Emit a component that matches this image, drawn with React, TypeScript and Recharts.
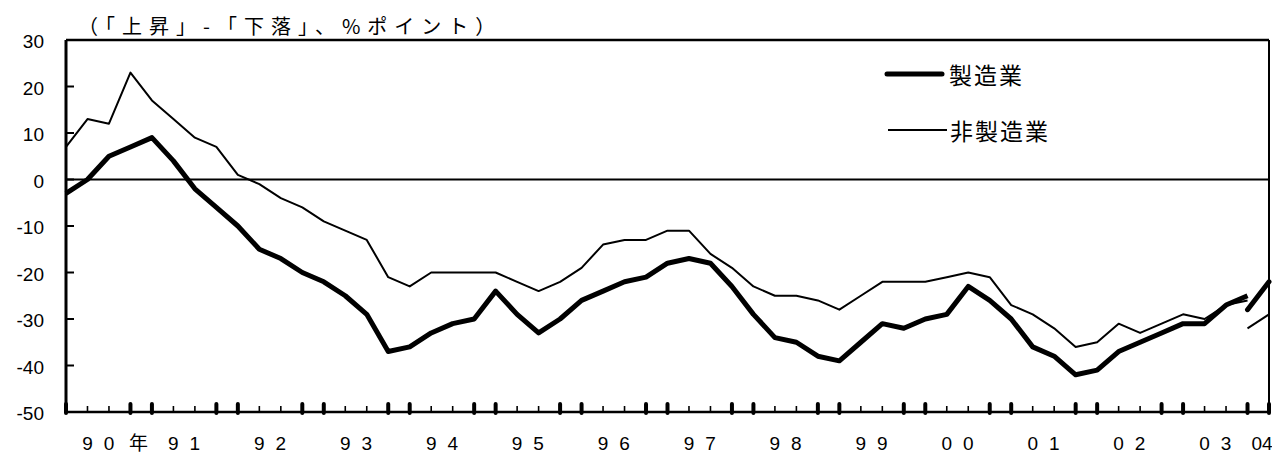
import React from 'react';
import { LineChart, Line, XAxis, YAxis, ReferenceLine } from 'recharts';

// year labels, one per year (04 has only its first quarter)
const yearLabels = ['90', '91', '92', '93', '94', '95', '96', '97', '98', '99', '00', '01', '02', '03', '04'];
const quarterMonths = ['3', '6', '9', '12'];

// old basis, 90/3 .. 03/12
const manufacturing = [
  -3, 0, 5, 7, 9, 4, -2, -6, -10, -15, -17, -20, -22, -25, -29, -37,
  -36, -33, -31, -30, -24, -29, -33, -30, -26, -24, -22, -21, -18, -17, -18, -23,
  -29, -34, -35, -38, -39, -35, -31, -32, -30, -29, -23, -26, -30, -36, -38, -42,
  -41, -37, -35, -33, -31, -31, -27, -25,
];
const nonManufacturing = [
  7, 13, 12, 23, 17, 13, 9, 7, 1, -1, -4, -6, -9, -11, -13, -21,
  -23, -20, -20, -20, -20, -22, -24, -22, -19, -14, -13, -13, -11, -11, -16, -19,
  -23, -25, -25, -26, -28, -25, -22, -22, -22, -21, -20, -21, -27, -29, -32, -36,
  -35, -31, -33, -31, -29, -30, -27, -26,
];
// new basis, 03/12 and 04/3
const manufacturingNew = [-28, -22];
const nonManufacturingNew = [-32, -29];

const yTicks = [-50, -40, -30, -20, -10, 0, 10, 20, 30];
const seriesNames = ['製造業', '非製造業'];
const unitTitle = '（「上昇」-「下落」、%ポイント）';

const newStart = manufacturing.length - 1;

const data = yearLabels.flatMap((yr, y) =>
  quarterMonths.map((m, q) => {
    const i = y * 4 + q;
    return {
      i,
      label: `${yr}/${m}`,
      mfg: i < manufacturing.length ? manufacturing[i] : null,
      nonMfg: i < nonManufacturing.length ? nonManufacturing[i] : null,
      mfgNew: i >= newStart ? manufacturingNew[i - newStart] ?? null : null,
      nonMfgNew: i >= newStart ? nonManufacturingNew[i - newStart] ?? null : null,
    };
  })
).filter((d) => d.i <= newStart + manufacturingNew.length - 1);

const lastIdx = data.length - 1;
const xTicks = data.map((d) => d.i);

const numFont = "'Liberation Sans', Arial, sans-serif";
const jpFont = "'Noto Sans CJK JP', sans-serif";

const YTick = (props: any) => {
  const { x, y, payload } = props;
  return (
    <g>
      <line x1={x} x2={x + 8} y1={y} y2={y} stroke="#000" strokeWidth={2} />
      <text x={x - 22} y={y} dy={8} textAnchor="end" fontSize={19} fontFamily={numFont} fill="#000">
        {payload.value}
      </text>
    </g>
  );
};

const XTick = (props: any) => {
  const { x, y, payload } = props;
  const i = payload.value as number;
  const q = i % 4;
  const year = yearLabels[Math.floor(i / 4)];
  const thick = q === 0 || q === 3;
  const base = y + 38;
  let label: React.ReactNode = null;
  if (i === lastIdx) {
    label = (
      <text x={x - 7} y={base} textAnchor="middle" fontSize={19} fontFamily={numFont} fill="#000">{year}</text>
    );
  } else if (q === 1 || q === 2) {
    label = (
      <text x={x} y={base} textAnchor="middle" fontSize={19} fontFamily={numFont} fill="#000">{year[q - 1]}</text>
    );
  } else if (i === 3) {
    label = (
      <text x={x + 8} y={base} textAnchor="middle" fontSize={19} fontFamily={jpFont} fill="#000">年</text>
    );
  }
  return (
    <g>
      {thick ? (
        <line x1={x} x2={x} y1={y - 8} y2={y + 1} stroke="#000" strokeWidth={4} strokeLinecap="round" />
      ) : (
        <line x1={x} x2={x} y1={y - 6} y2={y} stroke="#000" strokeWidth={1.6} />
      )}
      {label}
    </g>
  );
};

export default function App() {
  return (
    <div style={{ position: 'relative', width: 1272, height: 448, background: '#fff' }}>
      <LineChart width={1272} height={448} data={data} margin={{ top: 32, right: 11, bottom: 0, left: 0 }}>
        <XAxis
          dataKey="i"
          type="number"
          domain={[0, lastIdx]}
          ticks={xTicks}
          interval={0}
          height={44}
          tickLine={false}
          tickSize={0}
          tickMargin={0}
          axisLine={{ stroke: '#000', strokeWidth: 2.5 }}
          tick={<XTick />}
        />
        <YAxis
          type="number"
          domain={[-50, 30]}
          ticks={yTicks}
          interval={0}
          width={58}
          tickLine={false}
          tickSize={0}
          tickMargin={0}
          axisLine={{ stroke: '#000', strokeWidth: 3 }}
          tick={<YTick />}
        />
        <ReferenceLine y={30} stroke="#000" strokeWidth={2.5} />
        <ReferenceLine x={lastIdx} stroke="#000" strokeWidth={2} />
        <ReferenceLine y={0} stroke="#000" strokeWidth={2} />
        <Line dataKey="nonMfg" name={seriesNames[1]} stroke="#000" strokeWidth={2} dot={false} isAnimationActive={false} strokeLinejoin="round" />
        <Line dataKey="nonMfgNew" stroke="#000" strokeWidth={2} dot={false} isAnimationActive={false} />
        <Line dataKey="mfg" name={seriesNames[0]} stroke="#000" strokeWidth={5} dot={false} isAnimationActive={false} strokeLinejoin="round" />
        <Line dataKey="mfgNew" stroke="#000" strokeWidth={5} dot={false} isAnimationActive={false} strokeLinecap="round" />
      </LineChart>
      <svg width={1272} height={448} style={{ position: 'absolute', left: 0, top: 0, pointerEvents: 'none' }}>
        <text x={70} y={26} fontSize={20} letterSpacing={7} fontFamily={jpFont} fill="#000">{unitTitle}</text>
        <line x1={879} x2={934} y1={66} y2={66} stroke="#000" strokeWidth={5} strokeLinecap="round" />
        <text x={941} y={76} fontSize={23} letterSpacing={2} fontFamily={jpFont} fill="#000">{seriesNames[0]}</text>
        <line x1={880} x2={939} y1={122} y2={122} stroke="#000" strokeWidth={2} />
        <text x={942} y={132} fontSize={23} letterSpacing={2} fontFamily={jpFont} fill="#000">{seriesNames[1]}</text>
      </svg>
    </div>
  );
}
